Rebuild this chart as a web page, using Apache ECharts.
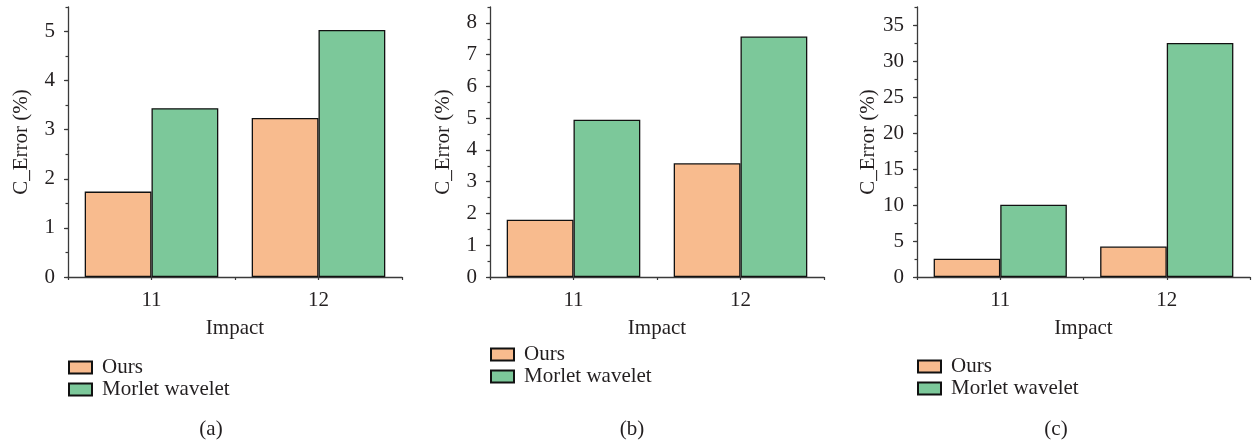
<!DOCTYPE html>
<html>
<head>
<meta charset="utf-8">
<script src="https://cdn.jsdelivr.net/npm/echarts@6/dist/echarts.min.js"></script>
<style>
html,body{margin:0;padding:0;background:#fff;}
#main{width:1252px;height:442px;}
</style>
</head>
<body>
<div id="main"></div>
<script>
const categories = ['11', '12'];
const seriesNames = ['Ours', 'Morlet wavelet'];
const oursA = [1.74, 3.24];
const morletA = [3.44, 5.03];
const oursB = [1.80, 3.58];
const morletB = [4.95, 7.57];
const oursC = [2.55, 4.23];
const morletC = [10.04, 32.5];
const yMax = [5.5, 8.5, 37.5];
const yStep = [1, 1, 5];
const captions = ['(a)', '(b)', '(c)'];
const xName = 'Impact';
const yName = 'C_Error (%)';

const FONT = 'Liberation Serif';
const FS = 21;
const TXT = '#231f20';
const AX = '#3a3a3a';
const ORANGE = '#f8bb8e';
const GREEN = '#7cc89a';

const grids = [
  {left: 68, top: 7, width: 334, height: 270},
  {left: 490, top: 7, width: 334, height: 270},
  {left: 917, top: 7, width: 333, height: 270}
];
const data = [[oursA, morletA], [oursB, morletB], [oursC, morletC]];
const legendTops = [357, 344, 356];
const captionLefts = [206, 627, 1051];

const option = {
  animation: false,
  backgroundColor: '#fff',
  textStyle: {fontFamily: FONT},
  grid: grids.map(g => Object.assign({containLabel: false}, g)),
  xAxis: [],
  yAxis: [],
  series: [],
  legend: [],
  title: []
};

grids.forEach((g, i) => {
  option.xAxis.push({
    type: 'category', gridIndex: i, data: categories,
    name: xName, nameLocation: 'middle', nameGap: 41,
    nameTextStyle: {fontFamily: FONT, fontSize: FS, color: TXT},
    axisLine: {lineStyle: {color: AX, width: 1.3}},
    axisTick: {show: true, length: 3, lineStyle: {color: AX, width: 1.2}},
    axisLabel: {fontFamily: FONT, fontSize: FS, color: TXT, margin: 13},
    splitLine: {show: false}
  });
  option.xAxis.push({
    type: 'category', gridIndex: i, data: categories, position: 'bottom',
    axisLine: {show: false},
    axisTick: {show: true, alignWithLabel: true, length: 3, lineStyle: {color: AX, width: 1.2}},
    axisLabel: {show: false},
    splitLine: {show: false}
  });
  option.yAxis.push({
    type: 'value', gridIndex: i, min: 0, max: yMax[i], interval: yStep[i],
    name: yName, nameLocation: 'middle', nameGap: 36, nameRotate: 90,
    nameTextStyle: {fontFamily: FONT, fontSize: FS, color: TXT},
    axisLine: {show: true, lineStyle: {color: AX, width: 1.3}},
    axisTick: {show: true, length: 4, lineStyle: {color: AX, width: 1.2}},
    axisLabel: {fontFamily: FONT, fontSize: FS, color: TXT, margin: 13, showMaxLabel: false,
      formatter: v => (v % yStep[i] === 0 ? String(v) : '')},
    splitLine: {show: false}
  });
  option.yAxis.push({
    type: 'value', gridIndex: i, min: 0, max: yMax[i], interval: yStep[i] / 2,
    position: 'left',
    axisLine: {show: false},
    axisTick: {show: true, length: 2.5, lineStyle: {color: AX, width: 1.2}},
    axisLabel: {show: false},
    splitLine: {show: false}
  });
  const cols = [ORANGE, GREEN];
  seriesNames.forEach((n, k) => {
    option.series.push({
      type: 'bar', name: n, xAxisIndex: 2 * i, yAxisIndex: 2 * i,
      data: data[i][k],
      barGap: '0%', barCategoryGap: '20%',
      itemStyle: {color: cols[k], borderColor: '#111', borderWidth: 1.3}
    });
  });
  option.legend.push({
    orient: 'vertical', left: g.left, top: legendTops[i], padding: 0,
    data: seriesNames, itemWidth: 23, itemHeight: 12, itemGap: 1,
    icon: 'rect',
    textStyle: {fontFamily: FONT, fontSize: FS, color: TXT, padding: [0, 0, 0, 5]},
    selectedMode: false
  });
  option.title.push({
    text: captions[i], left: captionLefts[i], top: 414,
    textAlign: 'center',
    textStyle: {fontFamily: FONT, fontSize: FS, fontWeight: 'normal', color: TXT}
  });
});

const chart = echarts.init(document.getElementById('main'), null, {renderer: 'canvas'});
chart.setOption(option);
</script>
</body>
</html>
